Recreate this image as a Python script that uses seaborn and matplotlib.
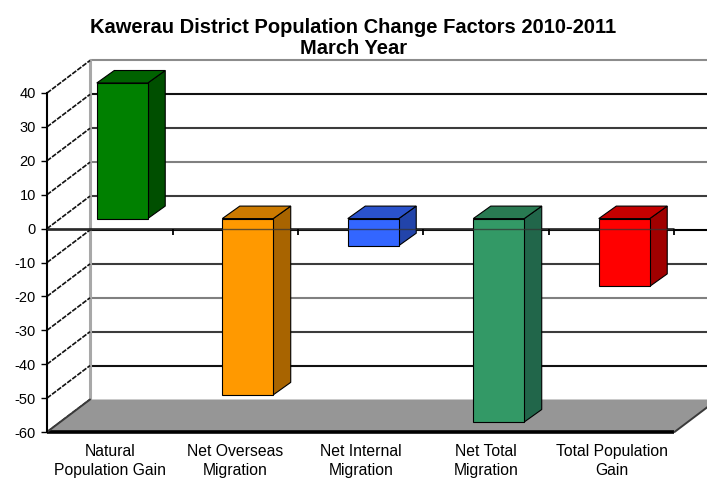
import matplotlib
matplotlib.use("Agg")
import matplotlib.pyplot as plt
import matplotlib.transforms as mtransforms
from matplotlib.patches import Polygon
import pandas as pd
import seaborn as sns

# ---- chart data -------------------------------------------------------------
categories = [
    "Natural\nPopulation Gain",
    "Net Overseas\nMigration",
    "Net Internal\nMigration",
    "Net Total\nMigration",
    "Total Population\nGain",
]
values = [40, -52, -8, -60, -20]
front_colors = ["#008000", "#FF9900", "#3366FF", "#339966", "#FF0000"]
top_colors = ["#006200", "#CC7A00", "#2A52CC", "#297A52", "#C40000"]
side_colors = ["#004F00", "#A86400", "#2244AA", "#21664A", "#A00000"]
y_ticks = [40, 30, 20, 10, 0, -10, -20, -30, -40, -50, -60]
wall_line_colors = ["#8c8c8c", "#111111", "#3c3c3c", "#808080", "#3c3c3c",
                    "#000000", "#3c3c3c", "#808080", "#3c3c3c", "#111111"]
title = "Kawerau District Population Change Factors 2010-2011\nMarch Year"

df = pd.DataFrame({"category": categories, "value": values})

sns.set_theme(style="white")
plt.rcParams["font.family"] = ["Liberation Sans", "DejaVu Sans"]

W, H = 707, 480
fig = plt.figure(figsize=(W / 100, H / 100), dpi=100)
fig.patch.set_facecolor("white")

# axes box = front plane of the 3-D frame
ax = fig.add_axes([47 / W, 1 - 432 / H, (674.5 - 47) / W, 339 / H])
ax.patch.set_alpha(0)

# bars sit a little deeper than the front plane
bar_tr = mtransforms.offset_copy(ax.transData, fig=fig, x=12.5, y=10, units="dots")

sns.barplot(data=df, x="category", y="value", hue="category",
            palette=front_colors, saturation=1, legend=False, errorbar=None,
            width=0.406, edgecolor="black", linewidth=0.8,
            transform=bar_tr, zorder=5, ax=ax)

ax.set_xlim(-0.5, 4.5)
ax.set_ylim(-60, 40)


def depth(px_x, px_y):
    """Convert a pixel displacement into data units."""
    o = ax.transData.transform((0, 0))
    p = ax.transData.transform((1, 1))
    return px_x / (p[0] - o[0]), px_y / (p[1] - o[1])


bdx, bdy = depth(43, 32.5)   # back wall offset
cdx, cdy = depth(17.5, 12.5)  # column depth

# back wall gridlines
for v, c in zip(y_ticks[:-1], wall_line_colors):
    ax.plot([-0.5 + bdx, 4.5 + bdx + 0.5], [v + bdy, v + bdy], color=c,
            lw=1.5, zorder=1, clip_on=False, solid_capstyle="butt")

# left wall back edge
ax.plot([-0.5 + bdx, -0.5 + bdx], [-60 + bdy, 40 + bdy], color="#a8a8a8",
        lw=2.2, zorder=1, clip_on=False)

# left wall gridlines (diagonals)
for v in y_ticks:
    ax.plot([-0.5, -0.5 + bdx], [v, v + bdy], color="#111111", lw=1.2,
            ls=(0, (3, 0.8)), zorder=2, clip_on=False)

# floor
floor = Polygon([(-0.5, -60), (4.5, -60), (4.5 + bdx, -60 + bdy),
                 (-0.5 + bdx, -60 + bdy)], closed=True, fc="#969696",
                ec="none", zorder=2, clip_on=False)
ax.add_patch(floor)
ax.plot([-0.5, 4.5], [-60, -60], color="black", lw=2.6, zorder=3,
        clip_on=False, solid_capstyle="butt")
ax.plot([4.5, 4.5 + bdx], [-60, -60 + bdy], color="#3a3a3a", lw=1.4,
        zorder=3, clip_on=False)
ax.plot([-0.5, -0.5 + bdx], [-60, -60 + bdy], color="#3a3a3a", lw=1.4,
        zorder=3, clip_on=False)

# zero line (category axis)
ax.plot([-0.5, 4.5], [0, 0], color="#111111", lw=1.8, zorder=3,
        clip_on=False, solid_capstyle="butt")

# 3-D faces of the columns
for p, tc, sc in zip(ax.patches[:len(values)], top_colors, side_colors):
    x0 = p.get_x()
    x1 = x0 + p.get_width()
    y0 = p.get_y()
    y1 = y0 + p.get_height()
    lo, hi = min(y0, y1), max(y0, y1)
    side = Polygon([(x1, lo), (x1, hi), (x1 + cdx, hi + cdy), (x1 + cdx, lo + cdy)],
                   closed=True, fc=sc, ec="black", lw=0.8, transform=bar_tr,
                   zorder=4, clip_on=False)
    top = Polygon([(x0, hi), (x1, hi), (x1 + cdx, hi + cdy), (x0 + cdx, hi + cdy)],
                  closed=True, fc=tc, ec="black", lw=0.8, transform=bar_tr,
                  zorder=4, clip_on=False)
    ax.add_patch(side)
    ax.add_patch(top)

for p in ax.patches[:len(values)]:
    p.set_clip_on(False)

# thin trace of the zero line across the column faces
ax.plot([-0.5, 4.5], [0, 0], color="#333333", lw=1.0, alpha=0.75, zorder=6,
        clip_on=False)
ax.plot([0.5, 1.5, 2.5, 3.5, 4.5], [0] * 5, ls="none", marker=3, ms=4,
        mew=1.3, color="black", zorder=6, clip_on=False)

# front value axis
for s in ["top", "right", "bottom"]:
    ax.spines[s].set_visible(False)
ax.spines["left"].set_color("black")
ax.spines["left"].set_linewidth(1.5)
ax.spines["left"].set_bounds(-60, 40)
ax.spines["left"].set_zorder(3)
ax.set_yticks(y_ticks)
ax.set_yticklabels([str(t) for t in y_ticks])
ax.tick_params(axis="y", direction="out", length=4.5, width=1, color="black",
               labelsize=10.5, pad=3.5, labelcolor="black", left=True)
ax.tick_params(axis="x", length=0, pad=8.5, labelsize=11.3, labelcolor="black")
for lab in ax.get_xticklabels():
    lab.set_linespacing(1.38)
ax.set_xlabel("")
ax.set_ylabel("")
ax.grid(False)

fig.text(0.5, 1 - 38 / H, title, ha="center", va="center", fontsize=14.5,
         fontweight="bold", color="black", linespacing=1.12)

fig.savefig("out.png", dpi=100, facecolor="white")
